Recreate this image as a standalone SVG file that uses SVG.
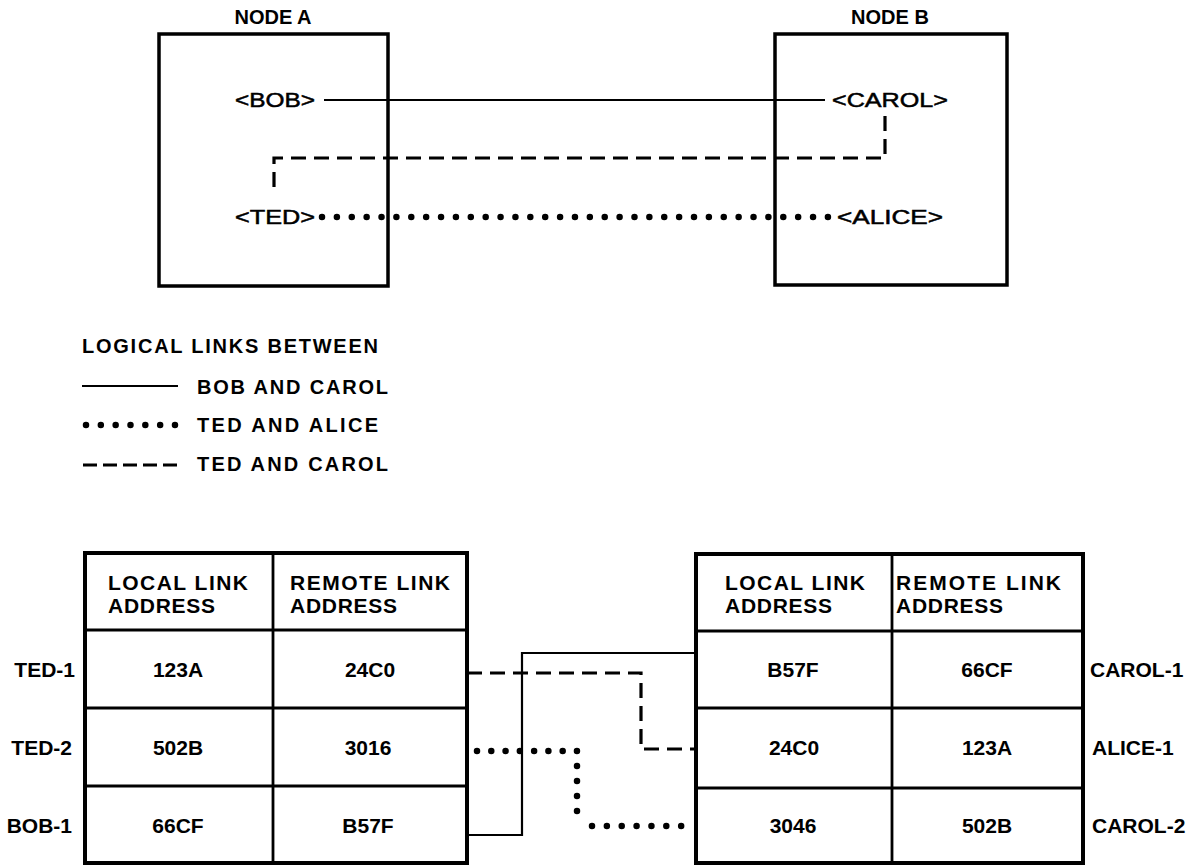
<svg xmlns="http://www.w3.org/2000/svg" width="1204" height="867" viewBox="0 0 1204 867">
<style>
.box{fill:none;stroke:#000;stroke-width:3.5}
.tb{fill:none;stroke:#000;stroke-width:4}
.ln{fill:none;stroke:#000;stroke-width:2.8}
.solid{fill:none;stroke:#000;stroke-width:2.2}
.dash{fill:none;stroke:#000;stroke-width:3.2;stroke-dasharray:15 8}
.dot{fill:none;stroke:#000;stroke-width:6.5;stroke-linecap:round}
text{font-family:"Liberation Sans",Arial,sans-serif;fill:#000}
.lbl{font-size:20px;stroke:#000;stroke-width:0.5}
.hd{font-size:20px;font-weight:bold}
.tt{font-size:21px;font-weight:bold}
.v{font-size:21px;font-weight:bold;text-anchor:middle}
.lg{font-size:20px;font-weight:bold}
</style>
<rect width="1204" height="867" fill="#fff"/>
<g id="nodeA">
<text class="hd" x="273" y="24" text-anchor="middle">NODE A</text>
<rect class="box" x="159" y="34" width="229" height="252"/>
<text class="lbl" x="235" y="107" textLength="80" lengthAdjust="spacingAndGlyphs">&lt;BOB&gt;</text>
<text class="lbl" x="235" y="224" textLength="80" lengthAdjust="spacingAndGlyphs">&lt;TED&gt;</text>
</g>
<g id="nodeB">
<text class="hd" x="890" y="24" text-anchor="middle">NODE B</text>
<rect class="box" x="775" y="34" width="232" height="251"/>
<text class="lbl" x="832" y="107" textLength="116" lengthAdjust="spacingAndGlyphs">&lt;CAROL&gt;</text>
<text class="lbl" x="837" y="224" textLength="106" lengthAdjust="spacingAndGlyphs">&lt;ALICE&gt;</text>
</g>
<g id="legend">
<text class="lg" x="82" y="353" textLength="296" lengthAdjust="spacing">LOGICAL LINKS BETWEEN</text>
<line class="solid" x1="82" y1="386" x2="178" y2="386"/>
<text class="lg" x="197" y="394" textLength="191" lengthAdjust="spacing">BOB AND CAROL</text>
<path class="dot" d="M86,425 H175" style="stroke-dasharray:0 14.83"/>
<text class="lg" x="197" y="432" textLength="181" lengthAdjust="spacing">TED AND ALICE</text>
<path class="dash" d="M83,465 H177" style="stroke-dasharray:14 6;stroke-width:3"/>
<text class="lg" x="197" y="471" textLength="191" lengthAdjust="spacing">TED AND CAROL</text>
</g>
<g id="tableLeft">
<rect class="tb" x="85" y="553" width="382" height="310"/>
<path class="ln" d="M273,553 V863 M85,630 H467 M85,708 H467 M85,786 H467"/>
<text class="tt" x="108" y="590" textLength="140" lengthAdjust="spacing">LOCAL LINK</text>
<text class="tt" x="108" y="613" textLength="107" lengthAdjust="spacing">ADDRESS</text>
<text class="tt" x="290" y="590" textLength="160" lengthAdjust="spacing">REMOTE LINK</text>
<text class="tt" x="290" y="613" textLength="107" lengthAdjust="spacing">ADDRESS</text>
<text class="v" x="178" y="677">123A</text>
<text class="v" x="370" y="677">24C0</text>
<text class="v" x="178" y="755">502B</text>
<text class="v" x="368" y="755">3016</text>
<text class="v" x="178" y="833">66CF</text>
<text class="v" x="368" y="833">B57F</text>
<text class="tt" x="75" y="677" text-anchor="end">TED-1</text>
<text class="tt" x="72" y="755" text-anchor="end">TED-2</text>
<text class="tt" x="72" y="833" text-anchor="end">BOB-1</text>
</g>
<g id="tableRight">
<rect class="tb" x="696" y="554" width="387" height="309"/>
<path class="ln" d="M892,554 V863 M696,631 H1083 M696,708 H1083 M696,788 H1083"/>
<text class="tt" x="725" y="590" textLength="140" lengthAdjust="spacing">LOCAL LINK</text>
<text class="tt" x="725" y="613" textLength="107" lengthAdjust="spacing">ADDRESS</text>
<text class="tt" x="896" y="590" textLength="165" lengthAdjust="spacing">REMOTE LINK</text>
<text class="tt" x="896" y="613" textLength="107" lengthAdjust="spacing">ADDRESS</text>
<text class="v" x="793" y="677">B57F</text>
<text class="v" x="987" y="677">66CF</text>
<text class="v" x="794" y="755">24C0</text>
<text class="v" x="987" y="755">123A</text>
<text class="v" x="793" y="833">3046</text>
<text class="v" x="987" y="833">502B</text>
<text class="tt" x="1090" y="677">CAROL-1</text>
<text class="tt" x="1092" y="755">ALICE-1</text>
<text class="tt" x="1092" y="833">CAROL-2</text>
</g>
<g id="connectors">
<path class="solid" d="M324,100 H825"/>
<path class="dash" d="M885,116 V158 H274 V195"/>
<path class="dot" d="M322,217 H828" style="stroke-dasharray:0 14.88"/>
<path class="solid" d="M696,653 H522 V835 H467"/>
<path class="dash" d="M467,673 H641 V749 H696"/>
<path class="dot" d="M477,751 H577" style="stroke-dasharray:0 14.28"/>
<path class="dot" d="M577,766 V826" style="stroke-dasharray:0 15"/>
<path class="dot" d="M592,826 H696" style="stroke-dasharray:0 14.86"/>
</g>
</svg>
